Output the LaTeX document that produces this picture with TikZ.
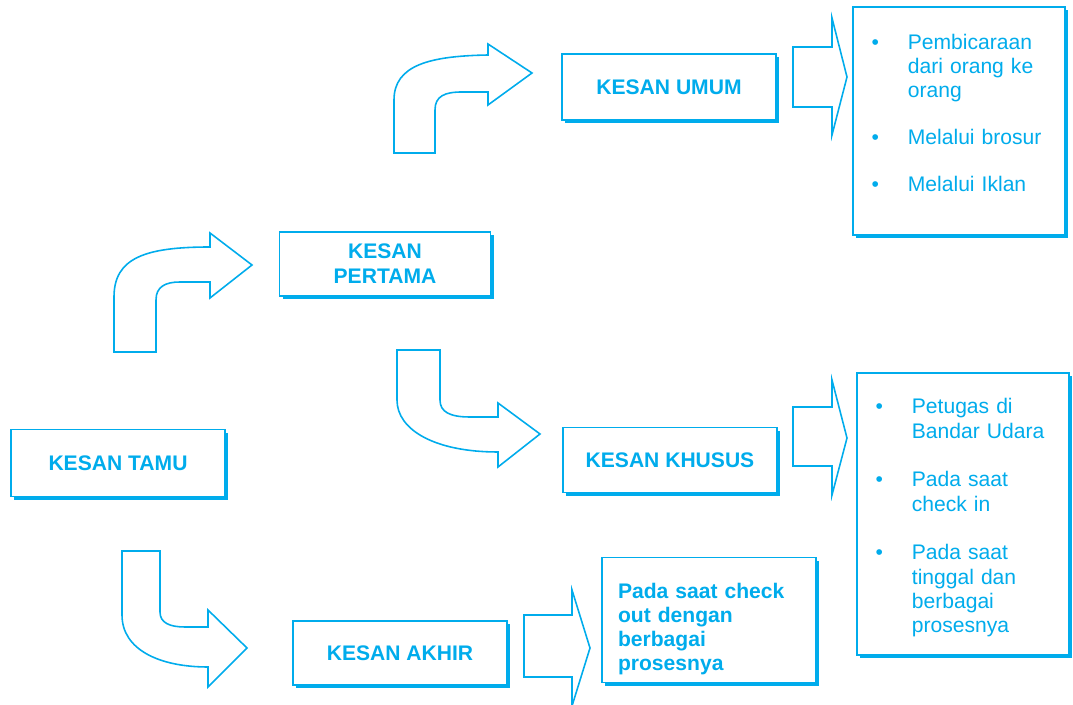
\documentclass[tikz,border=0pt]{standalone}
\usepackage{fontspec}
\setmainfont{Liberation Sans}
\usepackage{xcolor}
\usetikzlibrary{shadows}
\definecolor{myblue}{RGB}{0,172,236}
\newcommand{\kdot}{{\fontsize{12}{12}\selectfont\textbullet}}
\tikzset{
  kbox/.style={draw=myblue, line width=1pt, fill=white,
    drop shadow={shadow xshift=1.9pt, shadow yshift=-1.9pt, fill=myblue, opacity=1},
    text=myblue, align=center, inner sep=0pt,
    font=\bfseries\fontsize{12}{14.2}\selectfont,
    minimum width=4.28cm, minimum height=1.3cm},
  klist/.style={kbox, font=\fontsize{12}{13.8}\selectfont, align=left,
    text width=3.5cm, minimum width=4.24cm},
  karrow/.style={draw=myblue, line width=0.9pt, fill=white, line join=miter},
}

\begin{document}
\begin{tikzpicture}[x=0.02cm,y=-0.02cm]
\useasboundingbox (0,0) rectangle (1073,705);

%boxes
\node[kbox, minimum height=1.34cm] (tamu) at (118,463) {KESAN TAMU};
\node[kbox, minimum width=4.22cm, minimum height=1.28cm] (pertama) at (385,264) {KESAN\\PERTAMA};
\node[kbox, minimum height=1.32cm] (umum) at (669,87) {KESAN UMUM};
\node[kbox] (khusus) at (670,460) {KESAN KHUSUS};
\node[kbox, minimum height=1.28cm] (akhir) at (400,653) {KESAN AKHIR};
\node[kbox, align=left, text width=3.64cm, minimum height=2.5cm,
  font=\bfseries\fontsize{12}{13.7}\selectfont] (checkout) at (709,620)
  {\rule{0pt}{19pt}Pada saat check\\out dengan\\berbagai\\prosesnya};

%lists
\node[klist, minimum height=4.56cm] (umumlist) at (959,121) {%
\begin{tabular}{@{}l@{\hspace{16.5pt}}l@{}}
\kdot & Pembicaraan\\
 & dari orang ke\\
 & orang\\[13pt]
\kdot & Melalui brosur\\[13pt]
\kdot & Melalui Iklan\\[6pt]
\end{tabular}};
\node[klist, minimum height=5.64cm] (khususlist) at (963,514) {%
\begin{tabular}{@{}l@{\hspace{16.5pt}}l@{}}
\noalign{\vskip5pt}
\kdot & Petugas di\\
 & Bandar Udara\\[14pt]
\kdot & Pada saat\\
 & check in\\[14pt]
\kdot & Pada saat\\
 & tinggal dan\\
 & berbagai\\
 & prosesnya
\end{tabular}};

%bent arrows
\draw[karrow] (394,153) -- (394,100) .. controls (394,65) and (430,56) .. (488,55)
  -- (488,44) -- (532,73) -- (488,105) -- (488,92) -- (462,92)
  .. controls (445,92) and (435,96) .. (435,110) -- (435,153) -- cycle;
\draw[karrow] (114,352) -- (114,297) .. controls (114,258) and (145,247) .. (210,247)
  -- (210,233) -- (252,265) -- (210,298) -- (210,282) -- (180,282)
  .. controls (165,282) and (156,287) .. (156,300) -- (156,352) -- cycle;
\draw[karrow] (397,350) -- (440,350) -- (440,400) .. controls (440,412) and (450,417) .. (470,417)
  -- (498,417) -- (498,403) -- (540,434) -- (498,467) -- (498,452)
  .. controls (435,452) and (397,430) .. (397,400) -- cycle;
\draw[karrow] (122,551) -- (160,551) -- (160,612) .. controls (160,623) and (170,627) .. (185,627)
  -- (208,627) -- (208,610) -- (247,648) -- (208,687) -- (208,667)
  .. controls (160,667) and (122,650) .. (122,615) -- cycle;

%straight arrows
\draw[karrow] (793,47) -- (832,47) -- (832,18) -- (847,77) -- (832,135) -- (832,107) -- (793,107) -- cycle;
\draw[karrow] (793,407) -- (832,407) -- (832,380) -- (847,438) -- (832,495) -- (832,466) -- (793,466) -- cycle;
\draw[karrow] (524,615) -- (572,615) -- (572,590) -- (590,648) -- (572,706) -- (572,677) -- (524,677) -- cycle;
\end{tikzpicture}
\end{document}
